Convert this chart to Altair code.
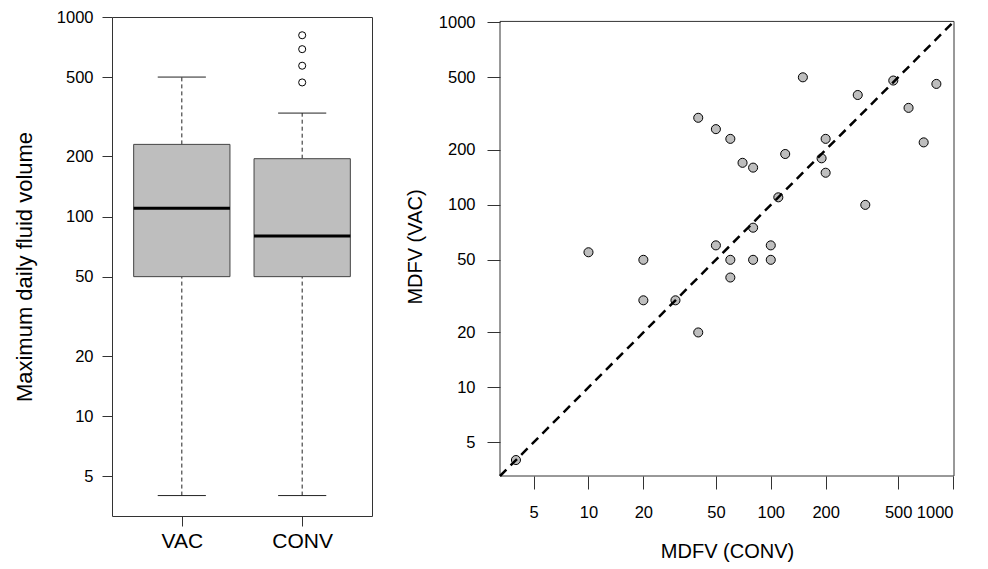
import altair as alt
import pandas as pd

# ---- Left panel: boxplot summary ----
groups = ["VAC", "CONV"]
positions = [1, 2]
q1 = [50, 50]
medians = [110, 80]
q3 = [230, 195]
whisk_lo = [4, 4]
whisk_hi = [500, 330]
out_pos = [2, 2, 2, 2]
out_values = [470, 570, 690, 810]

# ---- Right panel: paired MDFV values ----
conv = [10, 20, 40, 50, 60, 70, 80, 150, 120, 110, 80, 50, 60, 80, 100,
        100, 60, 300, 470, 810, 570, 690, 200, 190, 200, 330, 4, 20, 30, 40]
vac = [55, 50, 300, 260, 230, 170, 160, 500, 190, 110, 75, 60, 50, 50, 60,
       50, 40, 400, 480, 460, 340, 220, 230, 180, 150, 100, 4, 30, 30, 20]
line_ends = [3.27, 1012]

tick_values = [5, 10, 20, 50, 100, 200, 500, 1000]

FONT = "Liberation Sans"

box_df = pd.DataFrame(dict(group=groups, pos=positions, q1=q1, med=medians,
                           q3=q3, wlo=whisk_lo, whi=whisk_hi))
out_df = pd.DataFrame(dict(pos=out_pos, value=out_values))

base = alt.Chart(box_df).transform_calculate(
    x0="datum.pos - 0.4", x1="datum.pos + 0.4",
    c0="datum.pos - 0.2", c1="datum.pos + 0.2")

xs = alt.Scale(domain=[0.42, 2.58], nice=False, zero=False)
ys = alt.Scale(type="log", domain=[3.16, 1000], nice=False)

x_axis = alt.Axis(values=[1, 2], labelExpr="datum.value == 1 ? 'VAC' : 'CONV'",
                  tickSize=10, labelPadding=4, labelFontSize=21, domain=False,
                  grid=False, title=None)
y_axis = alt.Axis(values=tick_values, format="d", tickSize=10, labelPadding=9,
                  labelFontSize=16.5, domain=False, grid=False,
                  title="Maximum daily fluid volume", titleFontSize=22,
                  titlePadding=20)

upper = base.mark_rule(strokeDash=[4, 3], color="#222", strokeWidth=1).encode(
    x=alt.X("pos:Q", scale=xs, axis=x_axis),
    y=alt.Y("q3:Q", scale=ys, axis=y_axis), y2="whi:Q")
lower = base.mark_rule(strokeDash=[4, 3], color="#222", strokeWidth=1).encode(
    x=alt.X("pos:Q", scale=xs, axis=x_axis),
    y=alt.Y("wlo:Q", scale=ys, axis=y_axis), y2="q1:Q")
cap_hi = base.mark_rule(color="#222", strokeWidth=1).encode(
    x=alt.X("c0:Q", scale=xs, axis=x_axis), x2="c1:Q",
    y=alt.Y("whi:Q", scale=ys, axis=y_axis))
cap_lo = base.mark_rule(color="#222", strokeWidth=1).encode(
    x=alt.X("c0:Q", scale=xs, axis=x_axis), x2="c1:Q",
    y=alt.Y("wlo:Q", scale=ys, axis=y_axis))
box = base.mark_rect(fill="#bebebe", stroke="#444", strokeWidth=1).encode(
    x=alt.X("x0:Q", scale=xs, axis=x_axis), x2="x1:Q",
    y=alt.Y("q1:Q", scale=ys, axis=y_axis), y2="q3:Q")
med = base.mark_rule(color="black", strokeWidth=3).encode(
    x=alt.X("x0:Q", scale=xs, axis=x_axis), x2="x1:Q",
    y=alt.Y("med:Q", scale=ys, axis=y_axis))
outs = alt.Chart(out_df).mark_point(shape="circle", filled=False, color="black",
                                    size=50, strokeWidth=1, opacity=1).encode(
    x=alt.X("pos:Q", scale=xs, axis=x_axis),
    y=alt.Y("value:Q", scale=ys, axis=y_axis))

left = alt.layer(upper, lower, cap_hi, cap_lo, box, med, outs).properties(
    width=260, height=499)

# ---- Right panel ----
sc_df = pd.DataFrame(dict(conv=conv, vac=vac))
diag_df = pd.DataFrame(dict(v=line_ends))
frame_df = pd.DataFrame(dict(lo=[line_ends[0]], hi=[line_ends[1]]))

lsx = alt.Scale(type="log", domain=[3.27, 1012], nice=False)
lsy = alt.Scale(type="log", domain=[3.27, 1070], nice=False)
rx_axis = alt.Axis(values=tick_values, format="d", tickSize=13, labelPadding=15,
                   labelFontSize=16.5, domain=False, grid=False,
                   title="MDFV (CONV)", titleFontSize=20, titlePadding=21)
ry_axis = alt.Axis(values=tick_values, format="d", tickSize=13, labelPadding=12,
                   labelFontSize=16.5, domain=False, grid=False,
                   title="MDFV (VAC)", titleFontSize=20, titlePadding=13)

frame = alt.Chart(frame_df).mark_rect(fillOpacity=0, stroke="#333",
                                      strokeWidth=1).encode(
    x=alt.X("lo:Q", scale=lsx, axis=rx_axis), x2="hi:Q",
    y=alt.Y("lo:Q", scale=lsy, axis=ry_axis), y2="hi:Q")
pts = alt.Chart(sc_df).mark_circle(size=82, color="#bebebe", stroke="black",
                                   strokeWidth=1, opacity=1).encode(
    x=alt.X("conv:Q", scale=lsx, axis=rx_axis),
    y=alt.Y("vac:Q", scale=lsy, axis=ry_axis))
diag = alt.Chart(diag_df).mark_line(color="black", strokeWidth=2.5,
                                    strokeDash=[9, 6]).encode(
    x=alt.X("v:Q", scale=lsx, axis=rx_axis),
    y=alt.Y("v:Q", scale=lsy, axis=ry_axis))

right = alt.layer(frame, pts, diag).properties(
    width=454, height=459,
    view=alt.ViewBackground(stroke="transparent"))

chart = alt.hconcat(left, right, spacing=31).properties(
    padding={"left": 4, "top": 0, "right": 0, "bottom": 0}
).configure_view(stroke="#333", strokeWidth=1).configure_axis(
    labelFont=FONT, titleFont=FONT, labelColor="black", titleColor="black",
    tickColor="#333", tickWidth=1, titleFontWeight="normal")

chart.save("out.html", embed_options={"renderer": "svg", "actions": False})
